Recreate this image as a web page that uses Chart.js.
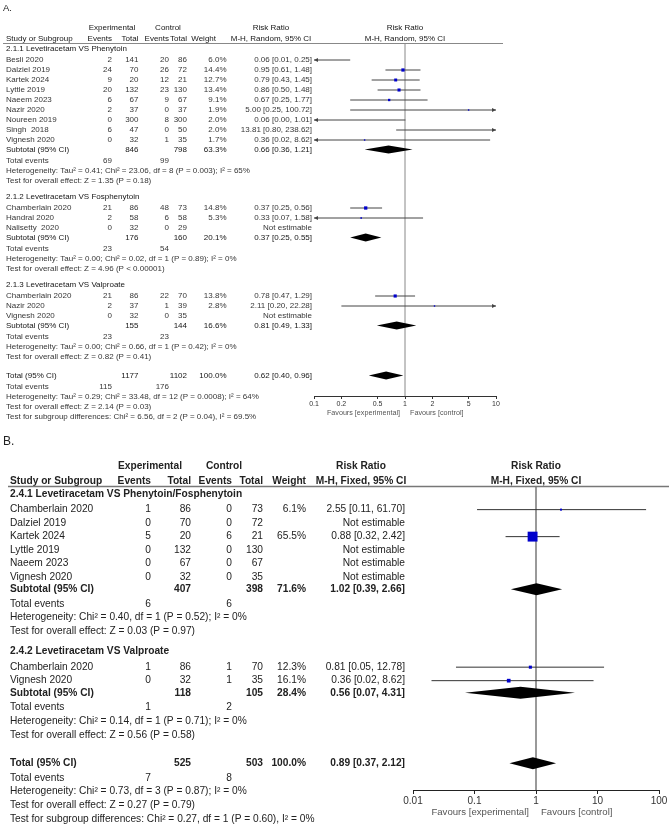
<!DOCTYPE html>
<html lang="en">
<head>
<meta charset="utf-8">
<title>Forest plots</title>
<script src="https://cdn.jsdelivr.net/npm/chart.js@4.4.1/dist/chart.umd.min.js"></script>
<style>
  body { margin: 0; background: #fff; }
  canvas { display: block; }
</style>
</head>
<body>
<canvas id="plotA" width="669" height="428"></canvas>
<canvas id="plotB" width="669" height="397"></canvas>
<script>
// ---------- panel A: M-H, Random ----------
const titlesA = ["2.1.1 Levetiracetam VS Phenytoin", "2.1.2 Levetiracetam VS Fosphenytoin", "2.1.3 Levetiracetam VS Valproate"];
const studiesA = ["Besli 2020", "Dalziel 2019", "Kartek 2024", "Lyttle 2019", "Naeem 2023", "Nazir 2020", "Noureen 2019", "Singh  2018", "Vignesh 2020",
                  "Chamberlain 2020", "Handral 2020", "Nalisetty  2020",
                  "Chamberlain 2020", "Nazir 2020", "Vignesh 2020"];
const groupA = [0, 0, 0, 0, 0, 0, 0, 0, 0, 1, 1, 1, 2, 2, 2];
const expEventsA = [2, 24, 9, 20, 6, 2, 0, 6, 0, 21, 2, 0, 21, 2, 0];
const expTotalA = [141, 70, 20, 132, 67, 37, 300, 47, 32, 86, 58, 32, 86, 37, 32];
const ctlEventsA = [20, 26, 12, 23, 9, 0, 8, 0, 1, 48, 6, 0, 22, 1, 0];
const ctlTotalA = [86, 72, 21, 130, 67, 37, 300, 50, 35, 73, 58, 29, 70, 39, 35];
const weightA = [6.0, 14.4, 12.7, 13.4, 9.1, 1.9, 2.0, 2.0, 1.7, 14.8, 5.3, null, 13.8, 2.8, null];
const rrA = [0.06, 0.95, 0.79, 0.86, 0.67, 5.00, 0.06, 13.81, 0.36, 0.37, 0.33, null, 0.78, 2.11, null];
const lowA = [0.01, 0.61, 0.43, 0.50, 0.25, 0.25, 0.00, 0.80, 0.02, 0.25, 0.07, null, 0.47, 0.20, null];
const highA = [0.25, 1.48, 1.45, 1.48, 1.77, 100.72, 1.01, 238.62, 8.62, 0.56, 1.58, null, 1.29, 22.28, null];

const subExpTotalA = [846, 176, 155];
const subCtlTotalA = [798, 160, 144];
const subWeightA = [63.3, 20.1, 16.6];
const subRrA = [0.66, 0.37, 0.81];
const subLowA = [0.36, 0.25, 0.49];
const subHighA = [1.21, 0.55, 1.33];
const subExpEventsA = [69, 23, 23];
const subCtlEventsA = [99, 54, 23];
const subHetA = ["Heterogeneity: Tau² = 0.41; Chi² = 23.06, df = 8 (P = 0.003); I² = 65%",
                 "Heterogeneity: Tau² = 0.00; Chi² = 0.02, df = 1 (P = 0.89); I² = 0%",
                 "Heterogeneity: Tau² = 0.00; Chi² = 0.66, df = 1 (P = 0.42); I² = 0%"];
const subTestA = ["Test for overall effect: Z = 1.35 (P = 0.18)",
                  "Test for overall effect: Z = 4.96 (P < 0.00001)",
                  "Test for overall effect: Z = 0.82 (P = 0.41)"];
const totalsA = [1177, 1102];          // experimental, control
const totalRrA = [0.62, 0.40, 0.96];   // estimate, lower, upper
const totalEventsA = [115, 176];
const totalTextA = ["Heterogeneity: Tau² = 0.29; Chi² = 33.48, df = 12 (P = 0.0008); I² = 64%",
                    "Test for overall effect: Z = 2.14 (P = 0.03)",
                    "Test for subgroup differences: Chi² = 6.56, df = 2 (P = 0.04), I² = 69.5%"];
const ticksA = [0.1, 0.2, 0.5, 1, 2, 5, 10];

// ---------- panel B: M-H, Fixed ----------
const titlesB = ["2.4.1 Levetiracetam VS Phenytoin/Fosphenytoin", "2.4.2 Levetiracetam VS Valproate"];
const studiesB = ["Chamberlain 2020", "Dalziel 2019", "Kartek 2024", "Lyttle 2019", "Naeem 2023", "Vignesh 2020",
                  "Chamberlain 2020", "Vignesh 2020"];
const groupB = [0, 0, 0, 0, 0, 0, 1, 1];
const expEventsB = [1, 0, 5, 0, 0, 0, 1, 0];
const expTotalB = [86, 70, 20, 132, 67, 32, 86, 32];
const ctlEventsB = [0, 0, 6, 0, 0, 0, 1, 1];
const ctlTotalB = [73, 72, 21, 130, 67, 35, 70, 35];
const weightB = [6.1, null, 65.5, null, null, null, 12.3, 16.1];
const rrB = [2.55, null, 0.88, null, null, null, 0.81, 0.36];
const lowB = [0.11, null, 0.32, null, null, null, 0.05, 0.02];
const highB = [61.70, null, 2.42, null, null, null, 12.78, 8.62];

const subExpTotalB = [407, 118];
const subCtlTotalB = [398, 105];
const subWeightB = [71.6, 28.4];
const subRrB = [1.02, 0.56];
const subLowB = [0.39, 0.07];
const subHighB = [2.66, 4.31];
const subExpEventsB = [6, 1];
const subCtlEventsB = [6, 2];
const subHetB = ["Heterogeneity: Chi² = 0.40, df = 1 (P = 0.52); I² = 0%",
                 "Heterogeneity: Chi² = 0.14, df = 1 (P = 0.71); I² = 0%"];
const subTestB = ["Test for overall effect: Z = 0.03 (P = 0.97)",
                  "Test for overall effect: Z = 0.56 (P = 0.58)"];
const totalsB = [525, 503];
const totalRrB = [0.89, 0.37, 2.12];
const totalEventsB = [7, 8];
const totalTextB = ["Heterogeneity: Chi² = 0.73, df = 3 (P = 0.87); I² = 0%",
                    "Test for overall effect: Z = 0.27 (P = 0.79)",
                    "Test for subgroup differences: Chi² = 0.27, df = 1 (P = 0.60), I² = 0%"];
const ticksB = [0.01, 0.1, 1, 10, 100];

const panelA = {
  label: "A.", method: "M-H, Random, 95% CI", titles: titlesA, study: studiesA, group: groupA,
  expEv: expEventsA, expTot: expTotalA, ctlEv: ctlEventsA, ctlTot: ctlTotalA, weight: weightA, rr: rrA, lo: lowA, hi: highA,
  subExpTot: subExpTotalA, subCtlTot: subCtlTotalA, subWeight: subWeightA, subRr: subRrA, subLo: subLowA, subHi: subHighA,
  subExpEv: subExpEventsA, subCtlEv: subCtlEventsA, subHet: subHetA, subTest: subTestA,
  totals: totalsA, totalRr: totalRrA, totalEvents: totalEventsA, totalText: totalTextA, ticks: ticksA
};
const panelB = {
  label: "B.", method: "M-H, Fixed, 95% CI", titles: titlesB, study: studiesB, group: groupB,
  expEv: expEventsB, expTot: expTotalB, ctlEv: ctlEventsB, ctlTot: ctlTotalB, weight: weightB, rr: rrB, lo: lowB, hi: highB,
  subExpTot: subExpTotalB, subCtlTot: subCtlTotalB, subWeight: subWeightB, subRr: subRrB, subLo: subLowB, subHi: subHighB,
  subExpEv: subExpEventsB, subCtlEv: subCtlEventsB, subHet: subHetB, subTest: subTestB,
  totals: totalsB, totalRr: totalRrB, totalEvents: totalEventsB, totalText: totalTextB, ticks: ticksB
};

// layout (pixels / row units)
const layoutA = {
  height: 428, top: 43, axisY: 396, left: 314, right: 496, unit: 10, axisH: 14, xmin: 0.1, xmax: 10,
  font: 8, tickFont: 7, labelFont: 9.5, labelY: 8, favFont: 7.2, favY: 17, favGap: [5, 5],
  text: "#363636", strong: "#151515", useBold: false, fav: "#555",
  cols: { name: 6, expEv: 112, expTot: 138.5, ctlEv: 169, ctlTot: 187, weight: 226.5, weightHead: 216, rr: 312,
          rrHead: 271, expHead: 112, ctlHead: 168 },
  head1: -1.5, head2: -0.4, rule: [3, 503], ruleColor: "#888", ruleW: 1,
  gaps: { start: 0.6, afterTitle: 1.1, study: 1, subtotal: 0.95, events: 1.15, line: 1, title: 1.6, total: 1.85 },
  ci: "#444", ciW: 1, refColor: "#888", refW: 1, marker: "#0000cc", sq: 0.5, minSide: 1.4, dia: 4,
  arrow: [4, 2], axisColor: "#333", tickLen: 3
};
const layoutB = {
  height: 397, top: 58, axisY: 362, left: 413, right: 659, unit: 13.5, axisH: 16, xmin: 0.01, xmax: 100,
  font: 10.2, tickFont: 10, labelFont: 12, labelY: 14, favFont: 9.6, favY: 22, favGap: [7, 5],
  text: "#222", strong: "#222", useBold: true, fav: "#555",
  cols: { name: 10, expEv: 151, expTot: 191, ctlEv: 232, ctlTot: 263, weight: 306, weightHead: 306, rr: 405,
          rrHead: 361, expHead: 150, ctlHead: 224 },
  head1: -1.48, head2: -0.37, rule: [8, 669], ruleColor: "#777", ruleW: 1.5,
  gaps: { start: 0.6, afterTitle: 1.15, study: 1, subtotal: 0.9, events: 1.08, line: 1.02, title: 1.5, total: 2.1 },
  ci: "#333", ciW: 1, refColor: "#999", refW: 2, marker: "#0000cc", sq: 0.53, minSide: 2, dia: 6,
  arrow: [5, 3], axisColor: "#222", tickLen: 4
};

const f2 = v => v.toFixed(2);
const rrText = (r, lo, hi) => r == null ? "Not estimable" : `${f2(r)} [${f2(lo)}, ${f2(hi)}]`;
const pct = w => w == null ? "" : w.toFixed(1) + "%";

function buildRows(d, g) {
  const rows = [];
  let y = g.start;
  d.titles.forEach((t, gi) => {
    if (gi > 0) y += g.title;
    rows.push({ kind: "title", y, gi });
    let first = true;
    d.study.forEach((s, i) => {
      if (d.group[i] !== gi) return;
      y += first ? g.afterTitle : g.study;
      first = false;
      rows.push({ kind: "study", y, i });
    });
    y += g.subtotal; rows.push({ kind: "subtotal", y, gi });
    y += g.events; rows.push({ kind: "events", y, gi });
    y += g.line; rows.push({ kind: "het", y, gi });
    y += g.line; rows.push({ kind: "test", y, gi });
  });
  y += g.total; rows.push({ kind: "total", y });
  y += g.events; rows.push({ kind: "totalEvents", y });
  for (let k = 0; k < 3; k++) { y += g.line; rows.push({ kind: "totalText", y, k }); }
  return rows;
}

function makeDatasets(d, L, rows) {
  const clamp = v => Math.min(L.xmax, Math.max(L.xmin, v));
  const sets = [];
  const pts = [], radii = [];
  rows.filter(r => r.kind === "study" && d.rr[r.i] != null).forEach(r => {
    const i = r.i;
    sets.push({
      showLine: true, data: [{ x: clamp(d.lo[i]), y: r.y }, { x: clamp(d.hi[i]), y: r.y }],
      borderColor: L.ci, borderWidth: L.ciW, pointRadius: 0, order: 2, clip: 1
    });
    pts.push({ x: d.rr[i], y: r.y });
    radii.push(Math.max(L.minSide, L.sq * Math.pow(d.weight[i], 0.7)) * Math.SQRT1_2);
  });
  sets.push({ data: pts, pointStyle: "rect", pointRadius: radii, backgroundColor: L.marker, borderWidth: 0, order: 0, clip: 0 });
  return sets;
}

function forestPlugin(d, L, rows) {
  const font = (s, b) => `${b ? "bold " : ""}${s}px "Liberation Sans", Arial, sans-serif`;
  return {
    id: "forest",
    beforeDatasetsDraw(chart) {
      const { ctx, chartArea: a, scales: { x } } = chart;
      const px = x.getPixelForValue(1);
      ctx.save();
      ctx.strokeStyle = L.refColor; ctx.lineWidth = L.refW;
      ctx.beginPath(); ctx.moveTo(px, a.top); ctx.lineTo(px, a.bottom); ctx.stroke();
      ctx.restore();
    },
    afterDatasetsDraw(chart) {
      const { ctx, scales: { x, y } } = chart;
      ctx.save();
      // summary diamonds
      const diamond = (est, lo, hi, yv) => {
        const py = y.getPixelForValue(yv);
        ctx.beginPath();
        ctx.moveTo(x.getPixelForValue(lo), py);
        ctx.lineTo(x.getPixelForValue(est), py - L.dia);
        ctx.lineTo(x.getPixelForValue(hi), py);
        ctx.lineTo(x.getPixelForValue(est), py + L.dia);
        ctx.closePath(); ctx.fill();
      };
      ctx.fillStyle = "#000";
      rows.forEach(r => {
        if (r.kind === "subtotal" && d.subRr[r.gi] != null) diamond(d.subRr[r.gi], d.subLo[r.gi], d.subHi[r.gi], r.y);
        if (r.kind === "total") diamond(d.totalRr[0], d.totalRr[1], d.totalRr[2], r.y);
      });
      // arrow heads where the interval runs off the axis
      ctx.fillStyle = L.ci;
      const head = (px, py, dir) => {
        ctx.beginPath();
        ctx.moveTo(px, py);
        ctx.lineTo(px - dir * L.arrow[0], py - L.arrow[1]);
        ctx.lineTo(px - dir * L.arrow[0], py + L.arrow[1]);
        ctx.closePath(); ctx.fill();
      };
      rows.forEach(r => {
        if (r.kind !== "study" || d.rr[r.i] == null) return;
        const py = y.getPixelForValue(r.y);
        if (d.lo[r.i] < L.xmin) head(x.getPixelForValue(L.xmin), py, -1);
        if (d.hi[r.i] > L.xmax) head(x.getPixelForValue(L.xmax), py, 1);
      });
      ctx.restore();
    },
    afterDraw(chart) {
      const { ctx, scales: { x, y } } = chart;
      const c = L.cols;
      const Y = v => y.getPixelForValue(v);
      const x1 = x.getPixelForValue(1);
      // strong = headers, titles and totals (bold in B, darker regular in A)
      const put = (t, px, py, align, strong, size, color) => {
        ctx.font = font(size || L.font, strong && L.useBold);
        ctx.fillStyle = color || (strong ? L.strong : L.text);
        ctx.textAlign = align; ctx.textBaseline = "middle";
        ctx.fillText(String(t), px, py);
      };
      ctx.save();
      put(d.label, 3, L.labelY, "left", false, L.labelFont, "#222");

      const h1 = Y(L.head1), h2 = Y(L.head2);
      put("Experimental", c.expHead, h1, "center", true);
      put("Control", c.ctlHead, h1, "center", true);
      put("Risk Ratio", c.rrHead, h1, "center", true);
      put("Risk Ratio", x1, h1, "center", true);
      put("Study or Subgroup", c.name, h2, "left", true);
      put("Events", c.expEv, h2, "right", true);
      put("Total", c.expTot, h2, "right", true);
      put("Events", c.ctlEv, h2, "right", true);
      put("Total", c.ctlTot, h2, "right", true);
      put("Weight", c.weightHead, h2, "right", true);
      put(d.method, c.rrHead, h2, "center", true);
      put(d.method, x1, h2, "center", true);

      ctx.strokeStyle = L.ruleColor; ctx.lineWidth = L.ruleW;
      ctx.beginPath(); ctx.moveTo(L.rule[0], Math.round(Y(0)) + 0.5); ctx.lineTo(L.rule[1], Math.round(Y(0)) + 0.5); ctx.stroke();

      rows.forEach(r => {
        const py = Y(r.y);
        if (r.kind === "title") put(d.titles[r.gi], c.name, py, "left", true);
        else if (r.kind === "study") {
          const i = r.i;
          put(d.study[i], c.name, py, "left");
          put(d.expEv[i], c.expEv, py, "right");
          put(d.expTot[i], c.expTot, py, "right");
          put(d.ctlEv[i], c.ctlEv, py, "right");
          put(d.ctlTot[i], c.ctlTot, py, "right");
          put(pct(d.weight[i]), c.weight, py, "right");
          put(rrText(d.rr[i], d.lo[i], d.hi[i]), c.rr, py, "right");
        } else if (r.kind === "subtotal") {
          const g = r.gi;
          put("Subtotal (95% CI)", c.name, py, "left", true);
          put(d.subExpTot[g], c.expTot, py, "right", true);
          put(d.subCtlTot[g], c.ctlTot, py, "right", true);
          put(pct(d.subWeight[g]), c.weight, py, "right", true);
          put(rrText(d.subRr[g], d.subLo[g], d.subHi[g]), c.rr, py, "right", true);
        } else if (r.kind === "events") {
          put("Total events", c.name, py, "left");
          put(d.subExpEv[r.gi], c.expEv, py, "right");
          put(d.subCtlEv[r.gi], c.ctlEv, py, "right");
        } else if (r.kind === "het") put(d.subHet[r.gi], c.name, py, "left");
        else if (r.kind === "test") put(d.subTest[r.gi], c.name, py, "left");
        else if (r.kind === "total") {
          put("Total (95% CI)", c.name, py, "left", true);
          put(d.totals[0], c.expTot, py, "right", true);
          put(d.totals[1], c.ctlTot, py, "right", true);
          put(pct(100), c.weight, py, "right", true);
          put(rrText(d.totalRr[0], d.totalRr[1], d.totalRr[2]), c.rr, py, "right", true);
        } else if (r.kind === "totalEvents") {
          put("Total events", c.name, py, "left");
          put(d.totalEvents[0], c.expEv, py, "right");
          put(d.totalEvents[1], c.ctlEv, py, "right");
        } else if (r.kind === "totalText") put(d.totalText[r.k], c.name, py, "left");
      });

      const fy = L.axisY + L.favY;
      put("Favours [experimental]", x1 - L.favGap[0], fy, "right", false, L.favFont, L.fav);
      put("Favours [control]", x1 + L.favGap[1], fy, "left", false, L.favFont, L.fav);
      ctx.restore();
    }
  };
}

function drawForest(id, d, L) {
  const rows = buildRows(d, L.gaps);
  return new Chart(document.getElementById(id), {
    type: "scatter",
    data: { datasets: makeDatasets(d, L, rows) },
    options: {
      responsive: false, animation: false, events: [],
      layout: { padding: { left: L.left, right: 669 - L.right, top: L.top, bottom: L.height - L.axisY - L.axisH } },
      plugins: { legend: { display: false }, tooltip: { enabled: false } },
      scales: {
        x: {
          type: "logarithmic", min: L.xmin, max: L.xmax,
          afterBuildTicks: s => { s.ticks = d.ticks.map(v => ({ value: v })); },
          afterFit: s => { s.height = L.axisH; },
          ticks: { callback: v => String(v), autoSkip: false, maxRotation: 0, padding: 1, color: "#333",
                   font: { size: L.tickFont, family: '"Liberation Sans", Arial, sans-serif' } },
          grid: { drawOnChartArea: false, tickLength: L.tickLen, color: L.axisColor },
          border: { color: L.axisColor, width: 1 }
        },
        y: { type: "linear", display: false, reverse: true, min: 0, max: (L.axisY - L.top) / L.unit }
      }
    },
    plugins: [forestPlugin(d, L, rows)]
  });
}

drawForest("plotA", panelA, layoutA);
drawForest("plotB", panelB, layoutB);
</script>
</body>
</html>
